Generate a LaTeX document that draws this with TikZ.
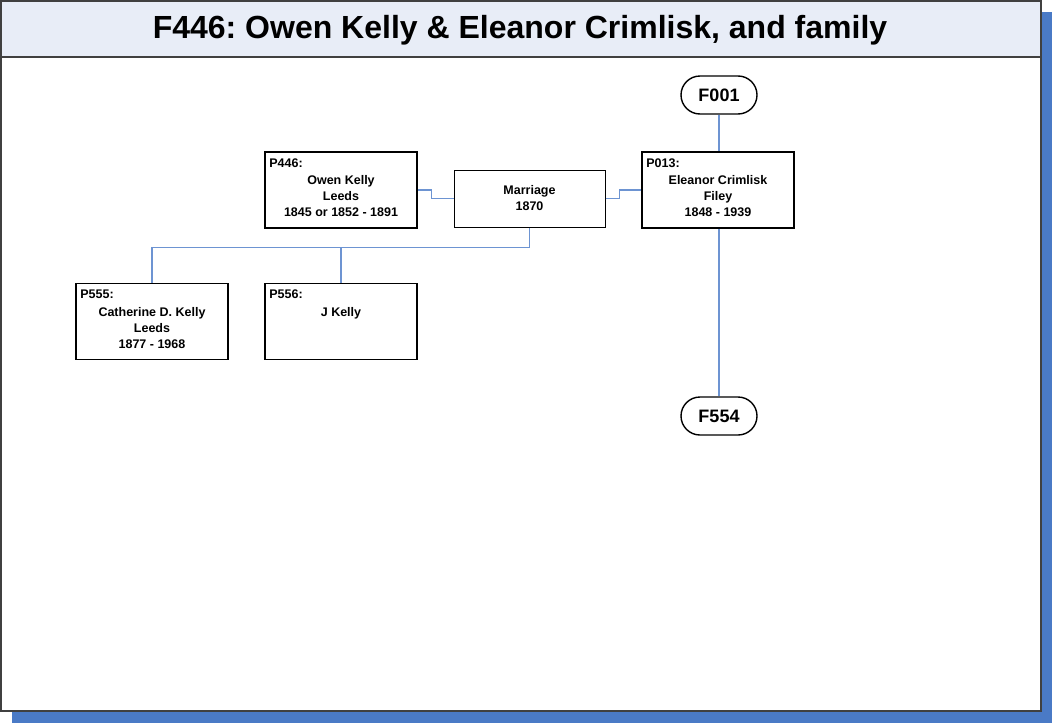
\documentclass[tikz,border=0pt]{standalone}
\usepackage{fontspec}
\setmainfont{Liberation Sans}
\frenchspacing
\definecolor{titlebg}{HTML}{E8EDF7}
\definecolor{shadowblue}{HTML}{4A7AC6}
\definecolor{connblue}{HTML}{6D94D2}
\definecolor{framegray}{HTML}{404040}
\begin{document}
\frenchspacing
\begin{tikzpicture}[x=1pt,y=-1pt,
  frame/.style={draw=framegray,line width=1.4pt},
  person/.style={draw=black,line width=1.6pt,fill=white,minimum width=152pt,minimum height=76pt,inner sep=0pt},
  marriagebox/.style={draw=black,line width=1pt,fill=white,minimum width=151pt,minimum height=57pt,inner sep=0pt,align=center,font=\bfseries\fontsize{12.5}{16}\selectfont},
  fam/.style={draw=black,line width=1.4pt,fill=white,rounded corners=19pt,minimum width=76pt,minimum height=38pt,inner sep=0pt,font=\bfseries\fontsize{18}{20}\selectfont},
  lbl/.style={anchor=north west,inner sep=0pt,font=\bfseries\fontsize{12.5}{16}\selectfont},
  body/.style={anchor=north,inner sep=0pt,align=center,font=\bfseries\fontsize{12.5}{16}\selectfont},
  conn/.style={draw=connblue,line width=1.2pt},
  titletext/.style={anchor=base,inner sep=0pt,font=\bfseries\fontsize{32}{36}\selectfont}]
\useasboundingbox (0,0) rectangle (1052,723);
\fill[shadowblue] (12,12) rectangle (1052,723);
\draw[frame,fill=white] (1,1) rectangle (1041,711);
\draw[frame,fill=titlebg] (1,1) rectangle (1041,57);
\node[titletext] (title) at (520,38.5) {F446: Owen Kelly \& Eleanor Crimlisk, and family};

% boxes
\node[person] (p446) at (341,190) {};
\node[marriagebox] (marr) at (529.5,198.5) {Marriage\\1870};
\node[person] (p013) at (718,190) {};
\node[person] (p555) at (152,321.5) {};
\node[person] (p556) at (341,321.5) {};
\node[fam] (f001) at (719,95) {F001};
\node[fam] (f554) at (719,416) {F554};

% connectors
\draw[conn] (p446.east) -- ++(14,0) |- (marr.west);
\draw[conn] (marr.east) -- ++(14,0) |- (p013.west);
\draw[conn] (marr.south) -- ++(0,20) coordinate (jn) -| (p555.north);
\draw[conn] (jn -| p556.north) -- (p556.north);
\draw[conn] (f001.south) -- (f001.south |- p013.north);
\draw[conn] (f554.north |- p013.south) -- (f554.north);

% texts
\node[lbl] (p446l) at ([xshift=5pt,yshift=-7pt]p446.north west) {P446:};
\node[body] (p446b) at ([yshift=-24.5pt]p446.north) {Owen Kelly\\Leeds\\1845 or 1852 - 1891};
\node[lbl] (p013l) at ([xshift=5pt,yshift=-7pt]p013.north west) {P013:};
\node[body] (p013b) at ([yshift=-24.5pt]p013.north) {Eleanor Crimlisk\\Filey\\1848 - 1939};
\node[lbl] (p555l) at ([xshift=5pt,yshift=-7pt]p555.north west) {P555:};
\node[body] (p555b) at ([yshift=-24.5pt]p555.north) {Catherine D. Kelly\\Leeds\\1877 - 1968};
\node[lbl] (p556l) at ([xshift=5pt,yshift=-7pt]p556.north west) {P556:};
\node[body] (p556b) at ([yshift=-24.5pt]p556.north) {J Kelly};
\end{tikzpicture}
\end{document}
